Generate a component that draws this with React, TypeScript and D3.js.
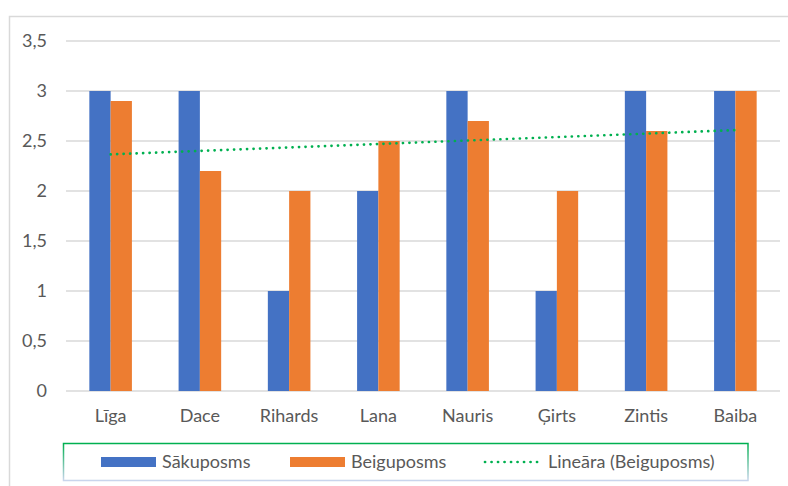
import React from "react";
import * as d3 from "d3";

const categories = ["Līga", "Dace", "Rihards", "Lana", "Nauris", "Ģirts", "Zintis", "Baiba"];
const sakuposms = [3, 3, 1, 2, 3, 1, 3, 3];
const beiguposms = [2.9, 2.2, 2, 2.5, 2.7, 2, 2.6, 3];
const yTicks = [0, 0.5, 1, 1.5, 2, 2.5, 3, 3.5];
const seriesNames = ["Sākuposms", "Beiguposms"];
const trendName = "Lineāra (Beiguposms)";

const W = 788;
const H = 486;
const BLUE = "#4472c4";
const ORANGE = "#ed7d31";
const GREEN = "#00b050";
const TEXT = "#595959";
const GRID = "#d9d9d9";
const FONT = "Lato, 'Open Sans', sans-serif";

function fmt(v: number) {
  return String(v).replace(".", ",");
}

export default function App() {
  const x = d3.scaleBand<string>().domain(categories).range([66, 780]).paddingInner(0.523).paddingOuter(0.2615);
  const xs = d3.scaleBand<string>().domain(seriesNames).range([0, x.bandwidth()]);
  const y = d3.scaleLinear().domain([0, 3.5]).range([391, 41]);

  // linear trendline (least squares) of Beiguposms
  const n = beiguposms.length;
  const idx = beiguposms.map((_, i) => i + 1);
  const mx = d3.mean(idx) as number;
  const my = d3.mean(beiguposms) as number;
  const sxy = d3.sum(idx.map((xi, i) => (xi - mx) * (beiguposms[i] - my)));
  const sxx = d3.sum(idx.map((xi) => (xi - mx) * (xi - mx)));
  const slope = sxy / sxx;
  const icpt = my - slope * mx;
  const trendPts: [number, number][] = [
    [x(categories[0])! + x.bandwidth() / 2, y(icpt + slope * 1)],
    [x(categories[n - 1])! + x.bandwidth() / 2, y(icpt + slope * n)],
  ];
  const line = d3.line();

  const series = [sakuposms, beiguposms];
  const colors = [BLUE, ORANGE];

  return (
    <svg width={W} height={H} style={{ position: "absolute", left: 0, top: 0, background: "#fff" }} fontFamily={FONT}>
      <defs>
        <linearGradient id="lg" x1="0" y1="0" x2="0" y2="1">
          <stop offset="0" stopColor={GREEN} />
          <stop offset="1" stopColor="#c9d5ec" />
        </linearGradient>
      </defs>
      <rect x={0} y={0} width={W} height={H} fill="#fff" />
      {/* outer chart frame */}
      <path d={`M9.5,${H} V16.5 H${W}`} fill="none" stroke={GRID} strokeWidth={1.5} />
      {/* gridlines */}
      {yTicks.map((t) => (
        <line key={t} x1={66} x2={780} y1={y(t)} y2={y(t)} stroke={GRID} strokeWidth={1.5} />
      ))}
      {/* y labels */}
      {yTicks.map((t) => (
        <text key={"l" + t} x={47} y={y(t) + 6} textAnchor="end" fontSize={18} fill={TEXT}>
          {fmt(t)}
        </text>
      ))}
      {/* bars */}
      {series.map((vals, si) =>
        vals.map((v, i) => (
          <rect
            key={si + "-" + i}
            x={x(categories[i])! + xs(seriesNames[si])!}
            y={y(v)}
            width={xs.bandwidth()}
            height={y(0) - y(v)}
            fill={colors[si]}
          />
        ))
      )}
      {/* trendline */}
      <path d={line(trendPts) || ""} fill="none" stroke={GREEN} strokeWidth={2.7} strokeLinecap="round" strokeDasharray="0.1 6.4" />
      {/* category labels */}
      {categories.map((c) => (
        <text key={c} x={x(c)! + x.bandwidth() / 2} y={422} textAnchor="middle" fontSize={18} fill={TEXT}>
          {c}
        </text>
      ))}
      {/* legend */}
      <rect x={63.5} y={443.5} width={684.5} height={37} fill="none" stroke="url(#lg)" strokeWidth={1.5} />
      <rect x={101} y={457} width={55} height={10} fill={BLUE} />
      <text x={162} y={468} fontSize={18} fill={TEXT}>{seriesNames[0]}</text>
      <rect x={290} y={457} width={55} height={10} fill={ORANGE} />
      <text x={351} y={468} fontSize={18} fill={TEXT}>{seriesNames[1]}</text>
      <line x1={485} x2={540} y1={462} y2={462} stroke={GREEN} strokeWidth={2.7} strokeLinecap="round" strokeDasharray="0.1 6.4" />
      <text x={548} y={468} fontSize={18} fill={TEXT}>{trendName}</text>
    </svg>
  );
}
